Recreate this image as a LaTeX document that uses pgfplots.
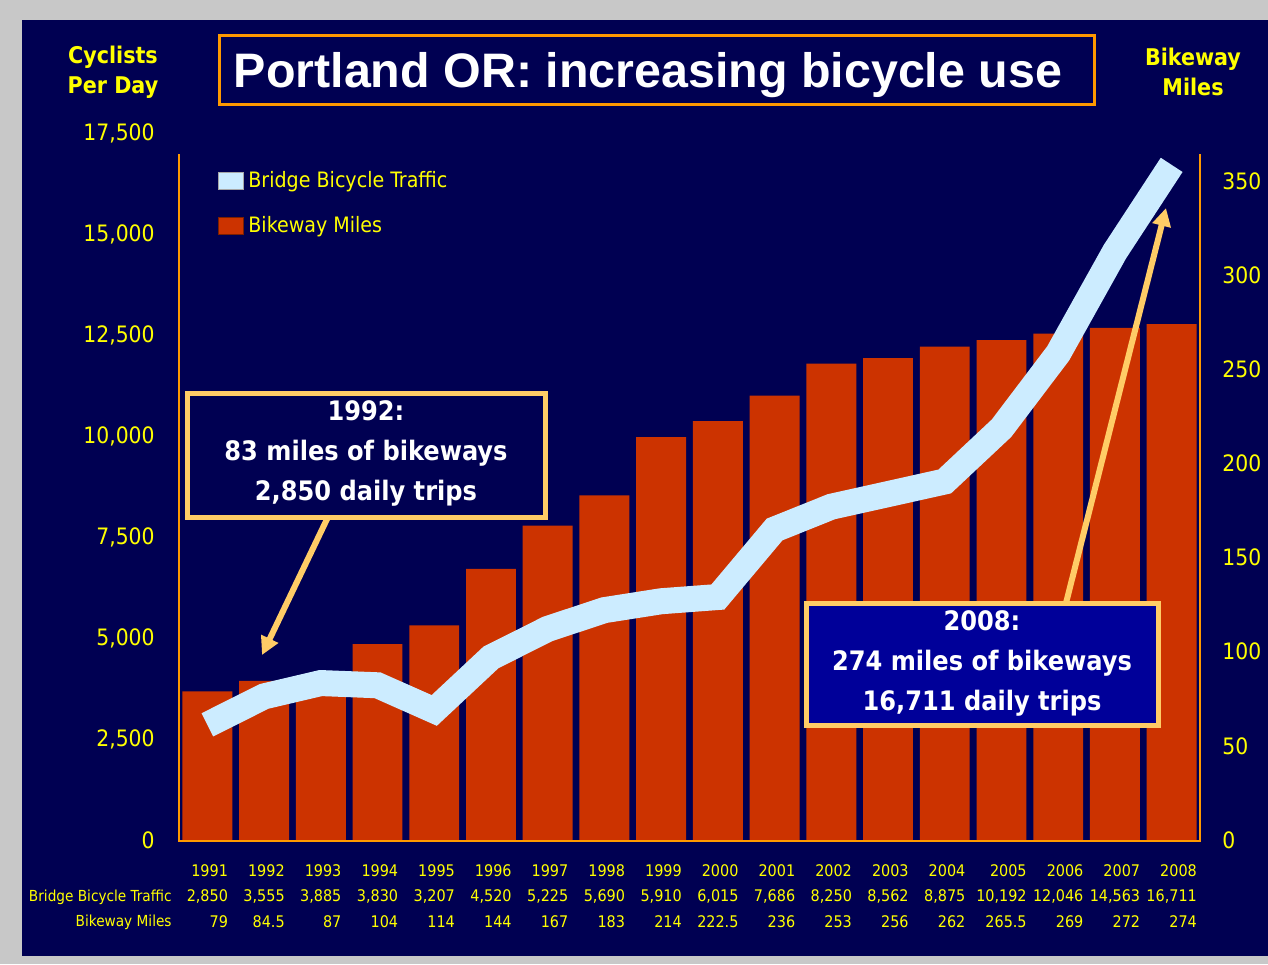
\documentclass[border=0pt]{standalone}
\usepackage{fontspec}
\setmainfont{DejaVu Sans Condensed}
\newfontfamily\titlefont{Liberation Sans}
\usepackage{pgfplots}
\pgfplotsset{compat=1.18}
\usepackage{pgfplotstable}
\usetikzlibrary{arrows.meta}

\definecolor{navy}{RGB}{0,0,82}
\definecolor{barred}{RGB}{204,51,0}
\definecolor{lineblue}{RGB}{204,236,255}
\definecolor{axorange}{RGB}{255,153,0}
\definecolor{callout}{RGB}{255,204,102}
\definecolor{boxblue}{RGB}{0,0,153}
\definecolor{ylw}{RGB}{255,255,0}
\definecolor{bggray}{RGB}{200,200,200}

\pgfplotstableread{
idx year traffic miles
0 1991 2850 79
1 1992 3555 84.5
2 1993 3885 87
3 1994 3830 104
4 1995 3207 114
5 1996 4520 144
6 1997 5225 167
7 1998 5690 183
8 1999 5910 214
9 2000 6015 222.5
10 2001 7686 236
11 2002 8250 253
12 2003 8562 256
13 2004 8875 262
14 2005 10192 265.5
15 2006 12046 269
16 2007 14563 272
17 2008 16711 274
}\data

\begin{document}
\begin{tikzpicture}
\begin{scope}[x=0.5pt,y=-0.5pt]
\fill[bggray] (0,0) rectangle (1268,964);
\fill[navy] (22,20) rectangle (1268,956);
\end{scope}

% Bars: bikeway miles, right scale
\begin{axis}[
  at={(89.5pt,-420pt)}, anchor=south west,
  scale only axis, width=510.5pt, height=353.5pt,
  xmin=-0.5, xmax=17.5, ymin=0, ymax=375.5,
  axis line style={draw=none},
  major tick length=0pt,
  ytick={0,50,...,350},
  yticklabel pos=right,
  yticklabel style={text=ylw, font=\fontsize{11.3}{13}\selectfont, anchor=west, inner sep=0pt, xshift=11pt},
  /pgf/number format/assume math mode=true,
  xtick={0,...,17},
  xticklabels={{1991\\2,850\\79},{1992\\3,555\\84.5},{1993\\3,885\\87},{1994\\3,830\\104},{1995\\3,207\\114},{1996\\4,520\\144},{1997\\5,225\\167},{1998\\5,690\\183},{1999\\5,910\\214},{2000\\6,015\\222.5},{2001\\7,686\\236},{2002\\8,250\\253},{2003\\8,562\\256},{2004\\8,875\\262},{2005\\10,192\\265.5},{2006\\12,046\\269},{2007\\14,563\\272},{2008\\16,711\\274}},
  xticklabel style={text=ylw, font=\fontsize{8}{12.7}\selectfont, align=right, anchor=north, inner sep=0pt, yshift=-12pt},
  clip=false,
]
\addplot[ybar, bar width=0.88, bar shift=0pt, fill=barred, draw=none] table[x=idx,y=miles]{\data};
\draw[axorange, line width=1pt] (rel axis cs:0,0.970) -- (rel axis cs:0,-0.002) -- (rel axis cs:1,-0.002) -- (rel axis cs:1,0.970);
\end{axis}

% Line: bridge bicycle traffic, left scale
\begin{axis}[
  at={(89.5pt,-420pt)}, anchor=south west,
  scale only axis, width=510.5pt, height=353.5pt,
  xmin=-0.5, xmax=17.5, ymin=0, ymax=17500,
  axis line style={draw=none},
  major tick length=0pt,
  hide x axis,
  ytick={0,2500,...,17500},
  scaled y ticks=false,
  yticklabel style={text=ylw, font=\fontsize{11.3}{13}\selectfont, anchor=east, inner sep=0pt, xshift=-12pt,
    /pgf/number format/1000 sep={,}},
  /pgf/number format/assume math mode=true,
  clip=false,
  legend style={at={(rel axis cs:0.0382,0.952)}, anchor=north west, draw=none, fill=none,
    font=\fontsize{10.6}{12}\selectfont, text=ylw, row sep=9pt, inner sep=0pt},
  legend cell align=left,
]
\addplot[lineblue, line width=13pt, line join=miter,
  legend image code/.code={\fill[lineblue, draw=gray!70, line width=0.5pt] (0pt,-4.2pt) rectangle (12.5pt,4.2pt);}]
  table[x=idx,y=traffic]{\data};
\addlegendentry{Bridge Bicycle Traffic}
\addlegendimage{legend image code/.code={\fill[barred, draw=barred!60!black, line width=0.4pt] (0pt,-4.2pt) rectangle (12.5pt,4.2pt);}}
\addlegendentry{Bikeway Miles}
\end{axis}

\begin{scope}[x=0.5pt,y=-0.5pt]
% row labels of the table
\node[anchor=base east, inner sep=0pt, text=ylw, font=\fontsize{7.6}{10}\selectfont] at (172,901) {Bridge Bicycle Traffic};
\node[anchor=base east, inner sep=0pt, text=ylw, font=\fontsize{7.6}{10}\selectfont] at (172,926) {Bikeway Miles};
% axis titles
\node[align=center, text=ylw, font=\fontsize{11.5}{15}\selectfont\bfseries] at (113,72) {Cyclists\\Per Day};
\node[align=center, text=ylw, font=\fontsize{11.5}{15}\selectfont\bfseries] at (1193,72) {Bikeway\\Miles};
% title
\filldraw[fill=navy, draw=axorange, line width=1.5pt] (219,35) rectangle (1094,104);
\node[text=white, font=\titlefont\fontsize{24.2}{28}\selectfont\bfseries] at (648,75) {Portland OR: increasing bicycle use};
% arrows
\draw[callout, line width=3pt, -{Triangle[length=9pt,width=9pt]}] (328,517) -- (262,655);
\draw[callout, line width=3pt, -{Triangle[length=9pt,width=9pt]}] (1066,603) -- (1166,208);
% callout boxes
\filldraw[fill=navy, draw=callout, line width=2.5pt] (187,393) rectangle (545,517);
\node[align=center, text=white, font=\fontsize{13.4}{20}\selectfont\bfseries] at (366,453) {1992:\\83 miles of bikeways\\2,850 daily trips};
\filldraw[fill=boxblue, draw=callout, line width=2.5pt] (806,603) rectangle (1158,725);
\node[align=center, text=white, font=\fontsize{13.4}{20}\selectfont\bfseries] at (982,663) {2008:\\274 miles of bikeways\\16,711 daily trips};
\end{scope}
\pgfresetboundingbox
\path[use as bounding box] (0pt,0pt) rectangle (634pt,-482pt);
\end{tikzpicture}
\end{document}
